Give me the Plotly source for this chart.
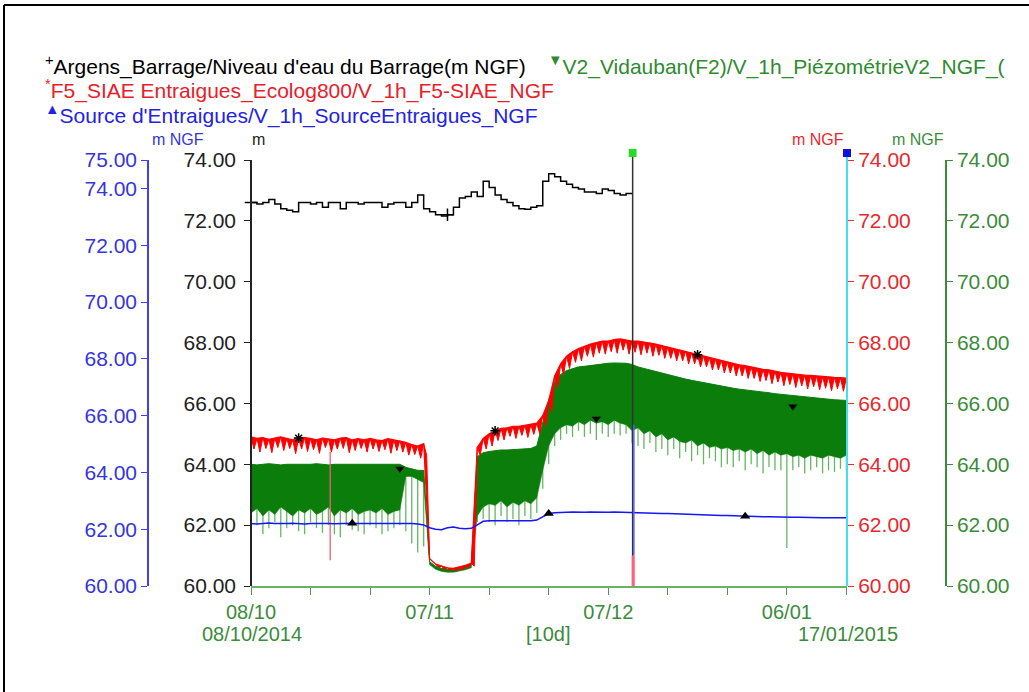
import pandas as pd
import plotly.graph_objects as go

# ---------------- data ----------------
START = "2014-10-08"
DAY_INDEX = list(range(101))          # daily samples, 08/10/2014 -> 17/01/2015

RED_TOP = [
    64.90, 64.85, 64.88, 64.82, 64.86, 64.90, 64.85, 64.80, 64.86, 64.88,
    64.85, 64.80, 64.86, 64.84, 64.80, 64.86, 64.88, 64.80, 64.84, 64.80,
    64.85, 64.80, 64.78, 64.84, 64.80, 64.78, 64.72, 64.65, 64.60, 64.68,
    60.90, 60.72, 60.65, 60.60, 60.58, 60.62, 60.68, 60.75,
    64.55, 64.85, 65.00, 65.10, 65.18, 65.20, 65.25, 65.25, 65.28, 65.30, 65.35,
    65.60, 66.10, 66.90, 67.30, 67.55, 67.70, 67.80, 67.88, 67.95, 68.00, 68.05,
    68.05, 68.10, 68.12, 68.08, 68.05, 68.05, 68.02, 68.00, 67.95, 67.90,
    67.85, 67.80, 67.76, 67.72, 67.66, 67.60, 67.56, 67.50, 67.46, 67.42,
    67.36, 67.32, 67.27, 67.24, 67.20, 67.15, 67.12, 67.10, 67.05, 67.02,
    67.00, 66.97, 66.95, 66.93, 66.92, 66.90, 66.88, 66.87, 66.86, 66.85, 66.83,
]
RED_LOW = [
    64.50, 64.40, 64.52, 64.38, 64.55, 64.45, 64.52, 64.35, 64.50, 64.42,
    64.48, 64.36, 64.55, 64.40, 64.50, 64.52, 64.38, 64.45, 64.52, 64.40,
    64.50, 64.42, 64.48, 64.36, 64.45, 64.40, 64.30, 64.32, 64.20, 64.30,
    60.80, 60.62, 60.55, 60.50, 60.48, 60.52, 60.58, 60.65,
    64.30, 64.50, 64.60, 64.78, 64.80, 64.92, 64.85, 64.95, 64.88, 64.98, 65.00,
    65.25, 65.70, 66.50, 66.95, 67.15, 67.35, 67.40, 67.55, 67.52, 67.65, 67.62,
    67.70, 67.65, 67.75, 67.62, 67.68, 67.60, 67.65, 67.55, 67.58, 67.48,
    67.48, 67.40, 67.40, 67.30, 67.30, 67.20, 67.20, 67.10, 67.10, 67.00,
    67.00, 66.90, 66.90, 66.82, 66.82, 66.72, 66.75, 66.65, 66.70, 66.58,
    66.62, 66.52, 66.58, 66.48, 66.55, 66.45, 66.50, 66.42, 66.48, 66.40, 66.45,
]
GREEN_TOP = [
    64.00, 63.98, 64.00, 64.02, 64.00, 63.98, 64.00, 64.00, 63.98, 64.00,
    64.00, 64.02, 64.00, 63.98, 64.00, 64.00, 64.00, 63.98, 64.00, 64.00,
    64.00, 63.98, 64.00, 64.00, 63.98, 64.00, 63.90, 63.85, 63.80, 63.80,
    60.80, 60.65, 60.58, 60.55, 60.55, 60.58, 60.63, 60.70,
    64.25, 64.38, 64.42, 64.45, 64.47, 64.47, 64.48, 64.48, 64.50, 64.52, 64.60,
    65.40, 66.10, 66.70, 66.95, 67.08, 67.15, 67.20, 67.22, 67.25, 67.28, 67.30,
    67.32, 67.33, 67.33, 67.32, 67.28, 67.20, 67.15, 67.10, 67.05, 67.00,
    66.93, 66.90, 66.85, 66.80, 66.76, 66.72, 66.68, 66.64, 66.60, 66.56,
    66.53, 66.50, 66.47, 66.45, 66.42, 66.40, 66.37, 66.35, 66.32, 66.30,
    66.27, 66.25, 66.22, 66.20, 66.19, 66.17, 66.15, 66.14, 66.12, 66.11, 66.10,
]
GREEN_LOW = [
    62.40, 62.55, 62.30, 62.50, 62.35, 62.60, 62.45, 62.30, 62.50, 62.40,
    62.55, 62.35, 62.45, 62.60, 62.30, 62.50, 62.40, 62.55, 62.35, 62.45,
    62.50, 62.40, 62.55, 62.35, 62.45, 62.50, 63.60, 63.60, 63.50, 63.40,
    60.70, 60.55, 60.48, 60.45, 60.45, 60.48, 60.53, 60.60,
    62.30, 62.60, 62.70, 62.65, 62.80, 62.60, 62.75, 62.65, 62.80, 62.70, 62.90,
    63.80, 64.60, 65.00, 65.20, 65.30, 65.25, 65.40, 65.30, 65.45, 65.35, 65.40,
    65.30, 65.45, 65.35, 65.30, 65.10, 65.20, 65.00, 65.10, 64.90, 65.00,
    64.80, 64.90, 64.75, 64.70, 64.80, 64.60, 64.70, 64.55, 64.60, 64.50,
    64.55, 64.45, 64.50, 64.40, 64.50, 64.35, 64.45, 64.30, 64.40, 64.30,
    64.35, 64.25, 64.30, 64.20, 64.30, 64.25, 64.20, 64.30, 64.25, 64.20, 64.30,
]
GREEN_SPIKE = [
    61.80, 62.00, 61.70, 61.90, 62.10, 61.60, 61.90, 62.00, 61.80, 61.70,
    62.10, 61.90, 61.75, 62.00, 61.70, 61.60, 62.00, 61.85, 61.80, 61.70,
    62.00, 61.90, 61.70, 61.80, 61.90, 62.00, 61.80, 61.40, 61.10, 61.30,
    None, None, None, None, None, None, None, None,
    62.10, 62.20, 62.10, 62.00, 62.30, 62.10, 62.20, 62.00, 62.30, 62.20, 62.40,
    63.20, 64.00, 64.60, 64.80, 65.00, 64.90, 65.10, 64.90, 65.00, 64.80, 65.00,
    64.90, 65.00, 64.95, 65.00, 64.70, 64.60, 64.50, 64.70, 64.40, 64.50,
    64.30, 64.50, 64.20, 64.40, 64.10, 64.30, 64.00, 64.20, 64.10, 63.90,
    64.00, 63.90, 64.10, 63.80, 64.00, 63.90, 63.70, 63.90, 63.80, 63.80,
    61.25, 63.80, 63.90, 63.70, 63.80, 63.90, 63.70, 63.80, 63.75, 63.85, 63.80,
]
BLUE = [
    62.20, 62.18, 62.20, 62.22, 62.20, 62.19, 62.20, 62.21, 62.20, 62.18,
    62.20, 62.20, 62.22, 62.20, 62.19, 62.20, 62.20, 62.21, 62.20, 62.20,
    62.20, 62.19, 62.20, 62.20, 62.21, 62.20, 62.19, 62.20, 62.18, 62.15,
    62.05, 62.00, 61.98, 62.05, 62.08, 62.03, 62.02, 62.03,
    62.15, 62.28, 62.30, 62.30, 62.28, 62.30, 62.30, 62.29, 62.30, 62.30, 62.32,
    62.45, 62.55, 62.58, 62.60, 62.60, 62.61, 62.60, 62.60, 62.61, 62.60, 62.60,
    62.60, 62.61, 62.60, 62.60, 62.59, 62.58, 62.58, 62.57, 62.56, 62.55,
    62.55, 62.54, 62.53, 62.52, 62.52, 62.51, 62.50, 62.50, 62.49, 62.48,
    62.48, 62.47, 62.47, 62.46, 62.45, 62.45, 62.44, 62.44, 62.43, 62.43,
    62.42, 62.42, 62.42, 62.41, 62.41, 62.40, 62.40, 62.40, 62.40, 62.40, 62.40,
]
BLACK = [
    72.60, 72.55, 72.60, 72.70, 72.55, 72.40, 72.35, 72.30, 72.60, 72.60,
    72.55, 72.60, 72.45, 72.60, 72.60, 72.40, 72.60, 72.60, 72.55, 72.60,
    72.60, 72.60, 72.45, 72.55, 72.60, 72.60, 72.45, 72.60, 72.85, 72.40,
    72.30, 72.20, 72.16, 72.20, 72.45, 72.75, 72.80, 72.95, 72.80, 73.30,
    73.10, 72.85, 72.70, 72.60, 72.50, 72.40, 72.38, 72.45, 72.50, 73.30,
    73.55, 73.45, 73.30, 73.20, 73.10, 73.05, 72.95, 72.95, 72.90, 73.05,
    73.00, 72.90, 72.85, 72.90, 72.90,
]
RED_SPIKE_DAYS = [13.3]
RED_SPIKE_MIN = [60.85]

BLACK_MARK_DAYS = [0, 33]
RED_MARK_DAYS = [8, 41, 75]
GREEN_MARK_DAYS = [25, 58, 91]
GREEN_MARK_VALS = [63.85, 65.50, 65.90]
BLUE_MARK_DAYS = [17, 50, 83]

CURSOR_DAY = 64.1
X_END_DAY = 100.1
X_TICK_DAYS = [0, 30, 60, 90]
X_TICK_TEXT = ["08/10", "07/11", "07/12", "06/01"]
X_MINOR_DAYS = [10, 20, 40, 50, 70, 80, 100]
Y_TICKS = [60, 62, 64, 66, 68, 70, 72, 74]
BLUE_TICKS = [60, 62, 64, 66, 68, 70, 72, 74, 75]

LEGEND = [
    ("+", "Argens_Barrage/Niveau d'eau du Barrage(m NGF)", "#000000"),
    ("*", "F5_SIAE Entraigues_Ecolog800/V_1h_F5-SIAE_NGF", "#e8202a"),
    ("▲", "Source d'Entraigues/V_1h_SourceEntraigues_NGF", "#2323e6"),
]
LEGEND_GREEN = ("▼", "V2_Vidauban(F2)/V_1h_PiézométrieV2_NGF_(", "#2e8b2e")

# ---------------- helpers ----------------
W, H = 1029, 692
t0 = pd.Timestamp(START)


def dt(d):
    return t0 + pd.Timedelta(days=d)


def px(x):
    return x / W


def py(y):
    return 1 - y / H


dates = [dt(d) for d in DAY_INDEX]

C_BLACK = "#000000"
C_RED = "#ff0000"
C_GREEN = "#0b7d0b"
C_GREEN_L = "#62b862"
C_BLUE = "#1515ff"
T_BLUE = "#3535e0"
T_RED = "#e8282c"
T_GREEN = "#3a8c3a"
FONT = "Liberation Sans, Arial, sans-serif"

fig = go.Figure()

# ---- green (V2) on y ----
sx, sy = [], []
for d, v in enumerate(GREEN_SPIKE):
    if v is None:
        continue
    sx += [dates[d], dates[d], None]
    sy += [GREEN_TOP[d], v, None]
fig.add_trace(go.Scatter(x=sx, y=sy, mode="lines", yaxis="y",
                         line=dict(color=C_GREEN_L, width=1.3), hoverinfo="skip"))
fig.add_trace(go.Scatter(x=dates, y=GREEN_LOW, mode="lines", yaxis="y",
                         line=dict(color=C_GREEN, width=0.5), hoverinfo="skip"))
fig.add_trace(go.Scatter(x=dates, y=GREEN_TOP, mode="lines", yaxis="y",
                         fill="tonexty", fillcolor=C_GREEN,
                         line=dict(color=C_GREEN, width=1)))
fig.add_trace(go.Scatter(x=[dt(d) for d in GREEN_MARK_DAYS], y=GREEN_MARK_VALS,
                         mode="markers", yaxis="y",
                         marker=dict(symbol="triangle-down", size=8, color="#000")))

# ---- red (F5) on y2 : band with a jagged lower edge ----
rx, ry = [], []
for d, v in zip(RED_SPIKE_DAYS, RED_SPIKE_MIN):
    rx += [dt(d), dt(d), None]
    ry += [RED_LOW[round(d)], v, None]
fig.add_trace(go.Scatter(x=rx, y=ry, mode="lines", yaxis="y2",
                         line=dict(color="#f06070", width=1.3), hoverinfo="skip"))
fig.add_trace(go.Scatter(x=dates, y=RED_TOP, mode="lines", yaxis="y2",
                         line=dict(color=C_RED, width=1.2), hoverinfo="skip"))
zx, zy = [], []
for d in DAY_INDEX:
    zx += [dt(d), dt(d + 0.5)]
    zy += [RED_TOP[d], RED_LOW[d]]
fig.add_trace(go.Scatter(x=zx, y=zy, mode="lines", yaxis="y2",
                         fill="tonexty", fillcolor=C_RED,
                         line=dict(color=C_RED, width=1)))
fig.add_trace(go.Scatter(x=[dt(d) for d in RED_MARK_DAYS],
                         y=[RED_TOP[d] for d in RED_MARK_DAYS],
                         mode="markers", yaxis="y2",
                         marker=dict(symbol="asterisk-open", size=8, color="#000",
                                     line=dict(color="#000", width=1.5))))

# ---- blue (Source) on y3 ----
fig.add_trace(go.Scatter(x=dates, y=BLUE, mode="lines", yaxis="y3",
                         line=dict(color=C_BLUE, width=1.5)))
fig.add_trace(go.Scatter(x=[dt(d) for d in BLUE_MARK_DAYS],
                         y=[BLUE[d] for d in BLUE_MARK_DAYS],
                         mode="markers", yaxis="y3",
                         marker=dict(symbol="triangle-up", size=9, color="#000")))

# ---- black (Barrage) on y4 ----
bdates = [dt(d) for d in range(len(BLACK))]
fig.add_trace(go.Scatter(x=bdates, y=BLACK, mode="lines", yaxis="y4",
                         line=dict(color=C_BLACK, width=1.5, shape="hv")))
fig.add_trace(go.Scatter(x=[dt(d) for d in BLACK_MARK_DAYS],
                         y=[BLACK[d] for d in BLACK_MARK_DAYS],
                         mode="markers", yaxis="y4", cliponaxis=False,
                         marker=dict(symbol="cross-thin", size=9, color="#000",
                                     line=dict(color="#000", width=1.5))))

y_dom = [py(586), py(160)]


def tickfont(c):
    return dict(family=FONT, size=21, color=c)


yax_common = dict(domain=y_dom, range=[60, 74], tickmode="array",
                  tickvals=Y_TICKS, tickformat=".2f", ticks="outside",
                  ticklen=6, tickwidth=1.2, showgrid=False, zeroline=False,
                  fixedrange=True, automargin=False)

fig.update_layout(
    template="none",
    width=W, height=H, autosize=False,
    margin=dict(l=0, r=0, t=0, b=0, pad=0),
    paper_bgcolor="white", plot_bgcolor="white",
    showlegend=False,
    font=dict(family=FONT),
    xaxis=dict(
        domain=[px(251), px(847)], anchor="y", type="date", automargin=False,
        range=[dt(0), dt(X_END_DAY)],
        tickmode="array", tickvals=[dt(d) for d in X_TICK_DAYS], ticktext=X_TICK_TEXT,
        ticks="outside", ticklen=7, tickwidth=1.2, tickcolor="#4a9a4a",
        tickfont=dict(family=FONT, size=20, color=T_GREEN),
        minor=dict(tickmode="array", tickvals=[dt(d) for d in X_MINOR_DAYS],
                   ticks="outside", ticklen=7, tickwidth=1.2, tickcolor="#4a9a4a",
                   showgrid=False),
        showline=True, linecolor="#66b366", linewidth=1.5,
        showgrid=False, zeroline=False,
    ),
    yaxis=dict(**yax_common, anchor="free", position=px(946), side="right",
               showline=True, linecolor="#3a8c3a", linewidth=1.5,
               tickcolor="#3a8c3a", tickfont=tickfont(T_GREEN)),
    yaxis2=dict(**yax_common, overlaying="y", anchor="free", position=px(847),
                side="right", showline=False, tickcolor=T_RED,
                tickfont=tickfont(T_RED)),
    yaxis3=dict(domain=y_dom, range=[60, 75], tickmode="array",
                tickvals=BLUE_TICKS, tickformat=".2f", ticks="outside",
                ticklen=6, tickwidth=1.2, showgrid=False, zeroline=False,
                automargin=False,
                overlaying="y", anchor="free", position=px(148), side="left",
                showline=True, linecolor="#4040f0", linewidth=1.5,
                tickcolor="#4040f0", tickfont=tickfont(T_BLUE)),
    yaxis4=dict(**yax_common, overlaying="y", anchor="free", position=px(251),
                side="left", showline=True, linecolor="#222", linewidth=1.5,
                tickcolor="#222", tickfont=tickfont("#222"), ticklabelstandoff=4),
)

# ---- shapes: frame, cursors ----
shapes = [
    dict(type="line", xref="paper", yref="paper", x0=px(4), x1=1, y0=py(5), y1=py(5),
         line=dict(color="#000", width=2)),
    dict(type="line", xref="paper", yref="paper", x0=px(4), x1=px(4), y0=0, y1=py(5),
         line=dict(color="#000", width=2)),
    # cyan cursor at right edge of the time range
    dict(type="line", xref="paper", yref="paper", x0=px(847), x1=px(847),
         y0=py(586), y1=py(153), line=dict(color="#40e0f0", width=2)),
    # dark cursor
    dict(type="line", xref="x", yref="paper", x0=dt(CURSOR_DAY), x1=dt(CURSOR_DAY),
         y0=py(586), y1=py(153), line=dict(color="#333", width=1.5)),
    dict(type="line", xref="x", yref="y2", x0=dt(CURSOR_DAY + 0.2), x1=dt(CURSOR_DAY + 0.2),
         y0=61.0, y1=65.3, line=dict(color="#5a5aff", width=1.5)),
    dict(type="line", xref="x", yref="y2", x0=dt(CURSOR_DAY + 0.1), x1=dt(CURSOR_DAY + 0.1),
         y0=60.0, y1=61.0, line=dict(color="#ff6080", width=3)),
    dict(type="rect", xref="x", yref="paper",
         x0=dt(CURSOR_DAY - 0.65), x1=dt(CURSOR_DAY + 0.65),
         y0=py(157), y1=py(149), fillcolor="#22dd22", line=dict(width=0)),
    dict(type="rect", xref="paper", yref="paper",
         x0=px(843), x1=px(851), y0=py(157), y1=py(149),
         fillcolor="#1010e0", line=dict(width=0)),
]
fig.update_layout(shapes=shapes)

# ---- annotations: legend, axis units, date range ----
ann = []
for i, (sym, txt, col) in enumerate(LEGEND):
    ann.append(dict(xref="paper", yref="paper", x=px(43), y=py([66, 89, 114][i]),
                    xanchor="left", yanchor="middle", showarrow=False,
                    text=f"<sup>{sym}</sup>{txt}",
                    font=dict(family=FONT, size=21, color=col)))
sym, txt, col = LEGEND_GREEN
ann.append(dict(xref="paper", yref="paper", x=px(546), y=py(66),
                xanchor="left", yanchor="middle", showarrow=False,
                text=f"<sup>{sym}</sup>{txt}",
                font=dict(family=FONT, size=21, color=col)))
for x, anchor, txt, col in [(150, "left", "m NGF", T_BLUE), (250, "left", "m", "#222"),
                            (846, "right", "m NGF", T_RED), (946, "right", "m NGF", T_GREEN)]:
    ann.append(dict(xref="paper", yref="paper", x=px(x), y=py(139),
                    xanchor=anchor, yanchor="middle", showarrow=False, text=txt,
                    font=dict(family=FONT, size=16, color=col)))
for x, txt in [(252, "08/10/2014"), (548, "[10d]"), (848, "17/01/2015")]:
    ann.append(dict(xref="paper", yref="paper", x=px(x), y=py(634),
                    xanchor="center", yanchor="middle", showarrow=False, text=txt,
                    font=dict(family=FONT, size=20, color=T_GREEN)))
fig.update_layout(annotations=ann)

fig.write_html("out.html")
